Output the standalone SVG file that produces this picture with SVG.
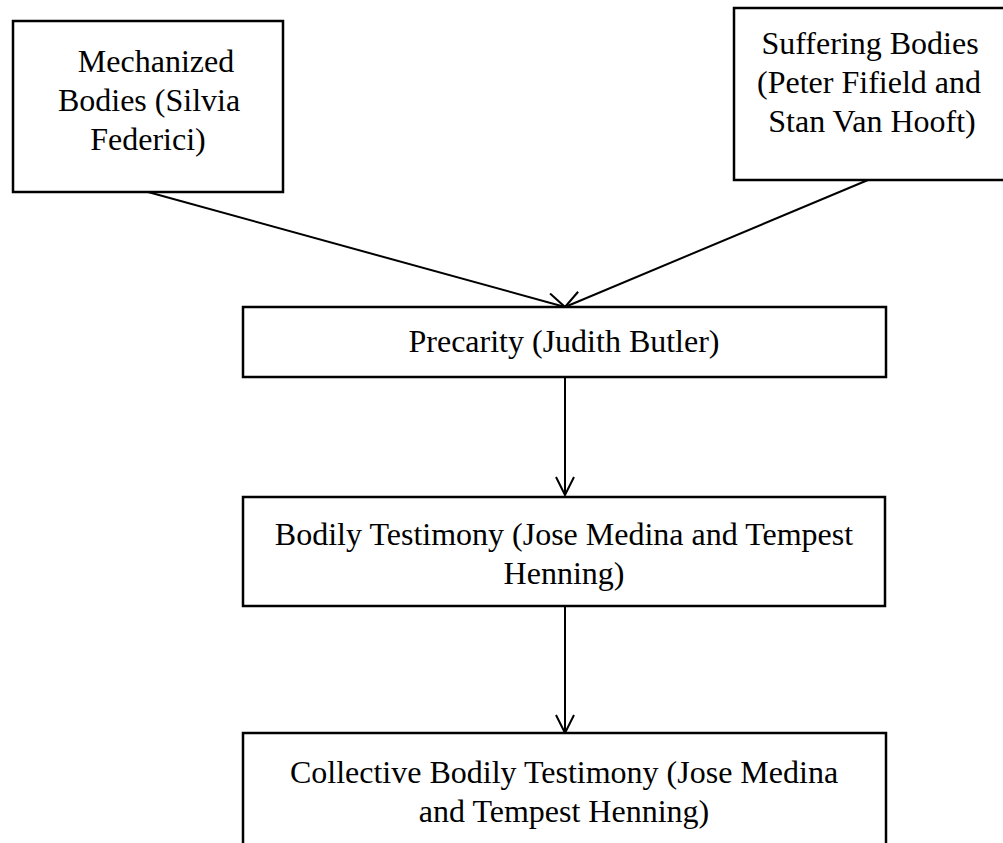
<svg xmlns="http://www.w3.org/2000/svg" width="1003" height="843" viewBox="0 0 1003 843">
<defs>
<style>
.box{fill:#fff;stroke:#000;stroke-width:2.5}
.t{font-family:"Liberation Serif","Times New Roman",serif;font-size:32px;fill:#000;text-anchor:middle}
.c{fill:none;stroke:#000;stroke-width:2}
</style>
<marker id="arr" viewBox="0 0 20 20" refX="19" refY="10" markerWidth="20" markerHeight="20" markerUnits="userSpaceOnUse" orient="auto">
<path d="M1,1 L19,10 L1,19" fill="none" stroke="#000" stroke-width="2"/>
</marker>
</defs>
<rect width="1003" height="843" fill="#fff"/>
<g id="connectors">
<line class="c" x1="148" y1="192" x2="565" y2="307" marker-end="url(#arr)"/>
<line class="c" x1="868" y1="180" x2="565" y2="307" marker-end="url(#arr)"/>
<line class="c" x1="565" y1="377" x2="565" y2="495" marker-end="url(#arr)"/>
<line class="c" x1="565" y1="606" x2="565" y2="733" marker-end="url(#arr)"/>
</g>
<g id="mechanized">
<rect class="box" x="13" y="21" width="270" height="171"/>
<text class="t"><tspan x="156" y="72">Mechanized</tspan><tspan x="149" y="111">Bodies (Silvia</tspan><tspan x="148" y="150">Federici)</tspan></text>
</g>
<g id="suffering">
<rect class="box" x="734" y="8" width="275" height="172"/>
<text class="t"><tspan x="870" y="54">Suffering Bodies</tspan><tspan x="869" y="93">(Peter Fifield and</tspan><tspan x="872" y="132">Stan Van Hooft)</tspan></text>
</g>
<g id="precarity">
<rect class="box" x="243" y="307" width="643" height="70"/>
<text class="t" x="564" y="352">Precarity (Judith Butler)</text>
</g>
<g id="bodily">
<rect class="box" x="243" y="497" width="642" height="109"/>
<text class="t"><tspan x="564" y="545">Bodily Testimony (Jose Medina and Tempest</tspan><tspan x="564" y="584">Henning)</tspan></text>
</g>
<g id="collective">
<rect class="box" x="243" y="733" width="643" height="130"/>
<text class="t"><tspan x="564" y="783">Collective Bodily Testimony (Jose Medina</tspan><tspan x="564" y="822">and Tempest Henning)</tspan></text>
</g>
</svg>
